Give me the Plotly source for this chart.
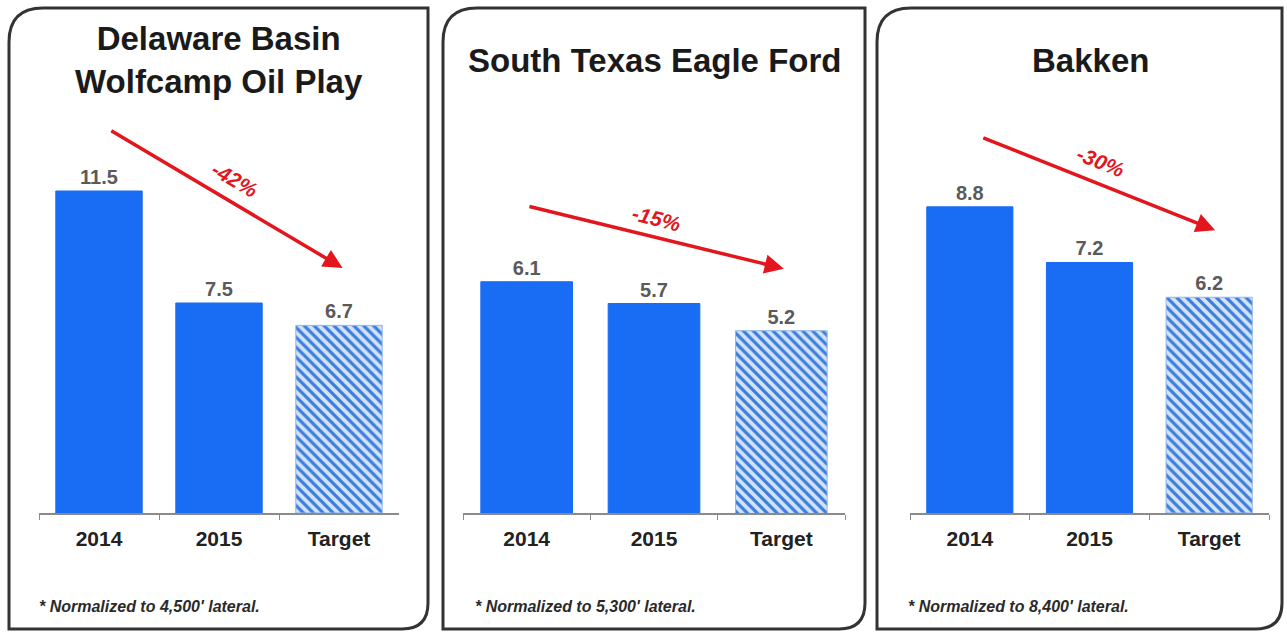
import plotly.graph_objects as go

W, H = 1287, 632

# ---- data ----
categories = ["2014", "2015", "Target"]
panel_titles = ["Delaware Basin<br>Wolfcamp Oil Play", "South Texas Eagle Ford", "Bakken"]
delaware_values = [11.5, 7.5, 6.7]
eagleford_values = [6.1, 5.7, 5.2]
bakken_values = [8.8, 7.2, 6.2]
change_labels = ["-42%", "-15%", "-30%"]
footnotes = ["* Normalized to 4,500' lateral.",
             "* Normalized to 5,300' lateral.",
             "* Normalized to 8,400' lateral."]

series = [delaware_values, eagleford_values, bakken_values]

# ---- styles / layout ----
FONT = "Liberation Sans, Arial, sans-serif"
BLUE = "#196cf4"
RED = "#e3161d"
LABEL_FONT = dict(family=FONT, size=20, color="#5a5a5a", weight="bold")

def px(x):
    return x / W

def py(y):
    return 1 - y / H

x_domains = [(39, 399), (463, 845), (910, 1269)]
y_domain = [py(513), py(100)]
# value axis ranges (the Eagle Ford panel's axis does not start at zero)
y_ranges = [[0, 14.75], [1.85, 9.44], [0, 11.87]]

# arrow geometry (category-index / value coordinates) and label placement
arrow_tail = [(0.09, 13.68), (0.01, 7.49), (0.10, 10.8)]
arrow_head = [(2.03, 8.75), (2.02, 6.34), (2.05, 8.13)]
label_pos = [(1.13, 11.9), (1.02, 7.27), (1.09, 10.09)]
label_angle = [30, 14, 22]

title_pos = [(219, 60), (654, 60), (1090, 60)]
foot_pos = [(37, 606), (473, 606), (906, 606)]
panel_box = [(9, 428), (443, 865), (877, 1282)]

fig = go.Figure()

for i, vals in enumerate(series):
    xa = "x" if i == 0 else f"x{i+1}"
    ya = "y" if i == 0 else f"y{i+1}"
    # actual years: solid bars
    fig.add_trace(go.Bar(
        x=categories[:2], y=vals[:2], xaxis=xa, yaxis=ya,
        marker=dict(color=BLUE, line=dict(color=BLUE, width=1)),
        text=[f"{v:.1f}" for v in vals[:2]],
        textposition="outside", textfont=LABEL_FONT,
        cliponaxis=True, showlegend=False, hoverinfo="skip",
    ))
    # target: hatched bar
    fig.add_trace(go.Bar(
        x=categories[2:], y=vals[2:], xaxis=xa, yaxis=ya,
        marker=dict(
            color="#d3e3f7",
            line=dict(color="#8fb6ea", width=1),
            pattern=dict(shape="\\", fgcolor="#3a7ddc", fgopacity=1,
                         fillmode="overlay", size=7, solidity=0.45),
        ),
        text=[f"{v:.1f}" for v in vals[2:]],
        textposition="outside", textfont=LABEL_FONT,
        cliponaxis=True, showlegend=False, hoverinfo="skip",
    ))

    d0, d1 = x_domains[i]
    axis_x = dict(
        domain=[px(d0), px(d1)], anchor=ya, type="category",
        categoryorder="array", categoryarray=categories,
        showgrid=False, zeroline=False,
        showline=True, linecolor="#8a8a8a", linewidth=1.5,
        ticks="outside", tickson="boundaries", ticklen=5, tickcolor="#8a8a8a",
        tickfont=dict(family=FONT, size=21, color="#222222", weight="bold"),
        ticklabelstandoff=6,
        fixedrange=True,
    )
    axis_y = dict(
        domain=y_domain, anchor=xa, range=y_ranges[i],
        visible=False, showgrid=False, zeroline=False, fixedrange=True,
    )
    key = "" if i == 0 else str(i + 1)
    fig.layout["xaxis" + key] = axis_x
    fig.layout["yaxis" + key] = axis_y

    # arrow
    fig.add_annotation(
        xref=xa, yref=ya, axref=xa, ayref=ya,
        x=arrow_head[i][0], y=arrow_head[i][1],
        ax=arrow_tail[i][0], ay=arrow_tail[i][1],
        text="", showarrow=True, arrowhead=2, arrowsize=1.1,
        arrowwidth=3.5, arrowcolor=RED, standoff=0, startstandoff=0,
    )
    fig.add_annotation(
        xref=xa, yref=ya, x=label_pos[i][0], y=label_pos[i][1],
        text=f"<i>{change_labels[i]}</i>", showarrow=False,
        textangle=label_angle[i],
        font=dict(family=FONT, size=21, color=RED, weight="bold"),
    )

    # title
    tx, ty = title_pos[i]
    fig.add_annotation(
        xref="paper", yref="paper", x=px(tx), y=py(ty),
        xanchor="center", yanchor="middle",
        text=panel_titles[i], showarrow=False,
        font=dict(family=FONT, size=33, color="#1a1a1a", weight="bold"),
    )
    # footnote
    fx, fy = foot_pos[i]
    fig.add_annotation(
        xref="paper", yref="paper", x=px(fx), y=py(fy),
        xanchor="left", yanchor="middle",
        text=f"<i>{footnotes[i]}</i>", showarrow=False,
        font=dict(family=FONT, size=16, color="#2a2a2a", weight="bold"),
    )

    # rounded panel border
    x0, x1 = panel_box[i]
    top, bottom = 8, 629
    r1, r2 = 34, 26
    path = (
        f"M {px(x0)} {py(top + r1)} "
        f"L {px(x0)} {py(bottom)} "
        f"L {px(x1 - r2)} {py(bottom)} "
        f"Q {px(x1)} {py(bottom)} {px(x1)} {py(bottom - r2)} "
        f"L {px(x1)} {py(top)} "
        f"L {px(x0 + r1)} {py(top)} "
        f"Q {px(x0)} {py(top)} {px(x0)} {py(top + r1)} Z"
    )
    fig.add_shape(type="path", xref="paper", yref="paper", path=path,
                  line=dict(color="#333333", width=3), layer="above")

fig.update_layout(
    width=W, height=H,
    margin=dict(l=0, r=0, t=0, b=0),
    paper_bgcolor="white", plot_bgcolor="white",
    barmode="overlay",
    bargap=0.28,
    font=dict(family=FONT),
)

fig.write_html("out.html", config={"displayModeBar": False},
               post_script="document.body.style.margin='0px';document.body.style.overflow='hidden';")
